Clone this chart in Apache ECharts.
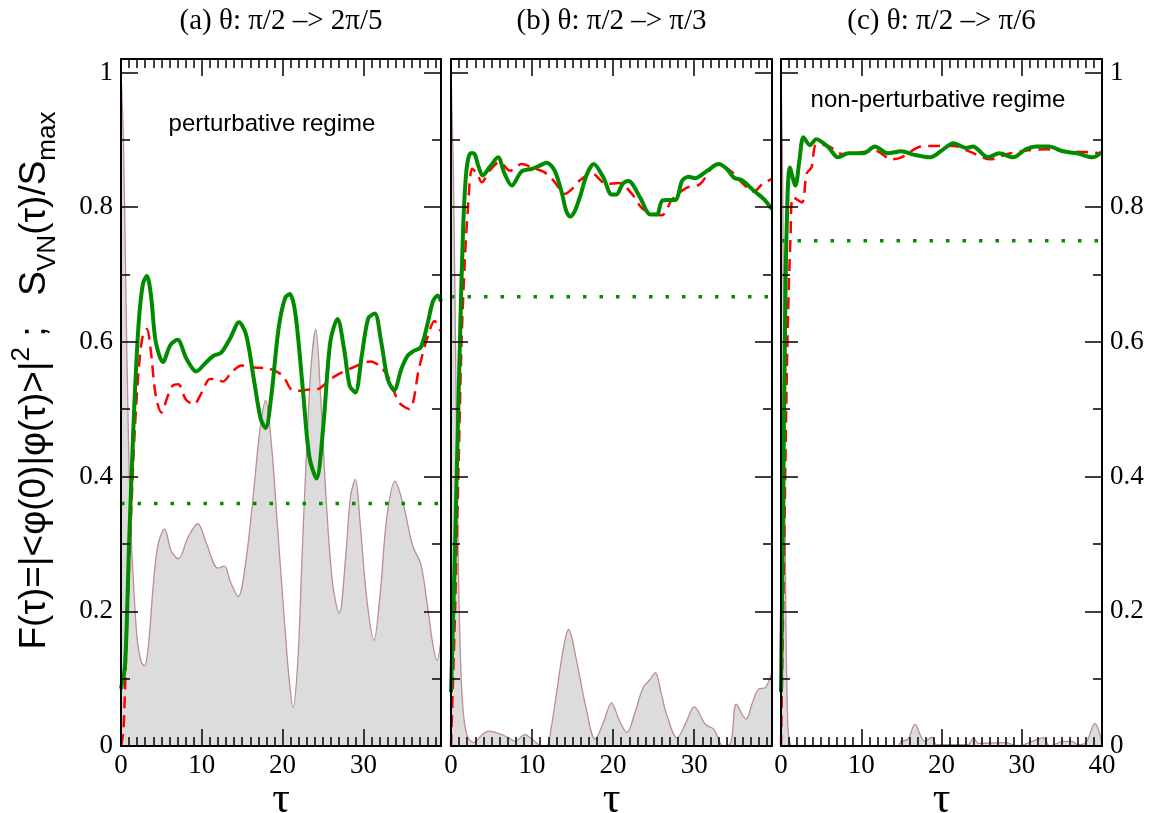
<!DOCTYPE html>
<html>
<head>
<meta charset="utf-8">
<script src="https://cdn.jsdelivr.net/npm/echarts@6/dist/echarts.min.js"></script>
<style>
  html, body { margin: 0; padding: 0; background: #fff; }
  #chart { width: 1153px; height: 813px; }
</style>
</head>
<body>
<div id="chart"></div>
<script>
// panel titles and x ranges
const panelTitles = ['(a) θ: π/2 –> 2π/5', '(b) θ: π/2 –> π/3', '(c) θ: π/2 –> π/6'];
const tauMax = [39.6, 39.6, 40];
// green dotted levels
const plateau = [0.36, 0.667, 0.75];

// F(tau), grey filled
const fidA = [[0,1.0],[0.3,0.9],[0.6,0.68],[0.9,0.47],[1.2,0.33],[1.6,0.23],[2.0,0.16],[2.5,0.125],[2.9,0.119],[3.4,0.15],[4.0,0.24],[4.6,0.3],[5.4,0.322],[6.2,0.29],[7.1,0.278],[8.3,0.31],[9.5,0.33],[10.6,0.3],[12.0,0.264],[12.8,0.267],[13.5,0.245],[14.5,0.222],[15.4,0.27],[16.3,0.364],[17.2,0.47],[17.9,0.513],[18.6,0.45],[19.4,0.32],[20.2,0.19],[20.8,0.1],[21.3,0.057],[21.9,0.13],[22.4,0.28],[22.9,0.42],[23.5,0.56],[24.1,0.619],[24.7,0.52],[25.4,0.364],[26.2,0.24],[27.0,0.197],[27.8,0.28],[28.4,0.37],[29.0,0.396],[29.6,0.33],[30.4,0.22],[31.3,0.157],[32.1,0.23],[32.9,0.34],[33.9,0.393],[34.9,0.36],[36.1,0.297],[37.1,0.27],[37.9,0.21],[38.6,0.15],[39.1,0.127],[39.6,0.16]];
const fidB = [[0,1.0],[0.3,0.85],[0.6,0.55],[0.9,0.275],[1.2,0.12],[1.5,0.052],[2.0,0.015],[2.8,0.005],[3.7,0.015],[4.6,0.022],[5.5,0.02],[6.3,0.017],[7.1,0.012],[7.9,0.007],[9.1,0.017],[10.0,0.01],[11.0,0.001],[11.8,0.0],[12.4,0.03],[13.0,0.077],[13.8,0.14],[14.5,0.173],[15.5,0.126],[16.6,0.06],[17.8,0.01],[18.8,0.035],[19.8,0.064],[20.7,0.04],[21.7,0.02],[22.7,0.05],[23.7,0.087],[24.5,0.098],[25.2,0.109],[25.9,0.08],[26.6,0.047],[27.9,0.012],[29.0,0.035],[30.0,0.058],[31.4,0.032],[32.4,0.025],[33.6,0.0],[34.5,0.004],[35.2,0.062],[36.4,0.04],[37.2,0.065],[37.9,0.084],[38.8,0.087],[39.6,0.11]];
const fidC = [[0,1.0],[0.2,0.85],[0.4,0.5],[0.6,0.2],[0.8,0.05],[1.0,0.01],[1.4,0.0],[14.5,0.0],[15.0,0.007],[15.8,0.01],[16.7,0.032],[17.4,0.015],[17.9,0.007],[18.8,0.013],[19.4,0.002],[23.3,0.002],[24.0,0.012],[24.6,0.004],[28.0,0.005],[29.5,0.0],[31.9,0.01],[32.7,0.012],[33.5,0.0],[35.2,0.007],[36.2,0.007],[37.0,0.002],[38.0,0.005],[39.1,0.033],[40,0.004]];

// S_VN(tau)/S_max, green solid
const svnA = [[0,0.085],[0.5,0.12],[1.0,0.3],[1.3,0.40],[1.7,0.52],[2.2,0.63],[2.7,0.685],[3.2,0.698],[3.7,0.67],[4.3,0.6],[5.2,0.57],[6.1,0.595],[7.0,0.603],[8.1,0.575],[9.3,0.556],[10.4,0.568],[11.4,0.579],[12.4,0.584],[13.5,0.605],[14.6,0.629],[15.5,0.61],[16.5,0.54],[17.3,0.485],[17.9,0.472],[18.6,0.52],[19.5,0.62],[20.3,0.665],[20.9,0.671],[21.6,0.64],[22.5,0.53],[23.3,0.43],[24.2,0.397],[25.0,0.47],[25.9,0.6],[26.8,0.634],[27.6,0.59],[28.3,0.535],[29.0,0.525],[29.8,0.58],[30.6,0.635],[31.4,0.642],[32.2,0.6],[33.0,0.545],[33.8,0.528],[34.7,0.56],[35.5,0.58],[36.3,0.587],[37.1,0.592],[37.9,0.625],[38.6,0.66],[39.2,0.669],[39.6,0.66]];
const svnB = [[0,0.08],[0.4,0.25],[0.8,0.45],[1.1,0.6],[1.5,0.77],[1.9,0.854],[2.4,0.88],[2.8,0.88],[3.4,0.86],[3.9,0.847],[4.8,0.86],[5.8,0.874],[6.6,0.85],[7.5,0.832],[8.7,0.853],[10.0,0.857],[11.0,0.862],[11.8,0.866],[12.8,0.854],[13.7,0.82],[14.2,0.795],[14.7,0.786],[15.3,0.795],[15.9,0.815],[16.8,0.85],[17.6,0.864],[18.8,0.844],[19.8,0.819],[20.4,0.819],[21.2,0.835],[21.9,0.839],[23.3,0.815],[24.6,0.789],[25.4,0.789],[26.1,0.81],[27.7,0.811],[28.5,0.839],[29.3,0.845],[30.1,0.843],[31.6,0.854],[33.0,0.864],[34.0,0.857],[34.9,0.844],[35.9,0.84],[37.3,0.825],[38.6,0.812],[39.6,0.797]];
const svnC = [[0,0.08],[0.3,0.4],[0.5,0.62],[0.7,0.765],[1.1,0.859],[1.8,0.832],[2.3,0.87],[2.8,0.904],[3.6,0.892],[4.4,0.901],[5.9,0.889],[7.1,0.874],[8.4,0.88],[10.3,0.88],[11.7,0.89],[13.3,0.88],[15.0,0.883],[16.5,0.878],[18.6,0.874],[20.0,0.884],[21.5,0.895],[23.1,0.888],[23.9,0.89],[25.8,0.874],[27.2,0.88],[28.9,0.874],[30.5,0.886],[31.8,0.89],[33.4,0.89],[35.1,0.883],[36.9,0.88],[38.8,0.874],[40,0.882]];

// red dashed
const redA = [[0,0.0],[0.3,0.022],[0.8,0.2],[1.2,0.33],[1.7,0.468],[2.2,0.56],[2.7,0.61],[3.2,0.619],[3.7,0.585],[4.3,0.52],[5.0,0.495],[5.8,0.52],[6.4,0.535],[7.1,0.537],[8.0,0.515],[9.0,0.507],[10.0,0.525],[11.0,0.545],[11.8,0.545],[12.6,0.541],[13.7,0.555],[14.9,0.565],[16.5,0.562],[18.4,0.56],[20.0,0.55],[21.0,0.53],[21.7,0.527],[23.0,0.529],[24.4,0.53],[25.5,0.54],[26.6,0.55],[28.7,0.562],[30.9,0.571],[32.2,0.562],[33.2,0.545],[34.4,0.51],[35.7,0.50],[36.9,0.562],[38.0,0.61],[38.8,0.631],[39.6,0.615]];
const redB = [[0,0],[0.5,0.2],[1.0,0.45],[1.3,0.6],[1.7,0.72],[2.1,0.8],[2.6,0.857],[3.2,0.85],[3.8,0.837],[4.8,0.855],[6.0,0.867],[7.3,0.854],[8.7,0.864],[10.2,0.858],[11.5,0.852],[12.6,0.84],[14.1,0.82],[15.0,0.828],[15.9,0.84],[17.4,0.85],[19.2,0.834],[20.7,0.836],[22.3,0.82],[23.7,0.797],[26.0,0.788],[27.3,0.812],[29.1,0.829],[30.7,0.834],[32.8,0.864],[34.7,0.852],[36.0,0.835],[37.3,0.823],[38.4,0.834],[39.6,0.842]];
const redC = [[0,0],[0.4,0.3],[0.8,0.6],[1.2,0.76],[1.5,0.815],[2.6,0.807],[3.2,0.85],[3.8,0.859],[4.4,0.893],[5.9,0.891],[7.6,0.879],[9.2,0.88],[11.7,0.884],[13.8,0.871],[15.0,0.874],[17.1,0.889],[18.7,0.891],[21.5,0.891],[23.6,0.882],[26.1,0.871],[28.2,0.879],[30.6,0.884],[33.1,0.886],[35.6,0.883],[37.7,0.882],[40,0.88]];

const fidelity = [fidA, fidB, fidC];
const svn = [svnA, svnB, svnC];
const red = [redA, redB, redC];

// fixed plot boxes; don't let echarts shrink them to fit names
const gridBoxes = [
  {left: 121, top: 59, width: 320, height: 687, outerBoundsMode: 'none'},
  {left: 451, top: 59, width: 321, height: 687, outerBoundsMode: 'none'},
  {left: 781, top: 59, width: 321, height: 687, outerBoundsMode: 'none'}
];

const serif = 'Liberation Serif';
const sans = 'Liberation Sans';
const axisLine = {show: true, onZero: false, lineStyle: {color: '#000', width: 2}};

function yLabel(v) {
  if (Math.abs(v * 5 - Math.round(v * 5)) > 1e-6) return '';
  if (v === 0) return '0';
  if (Math.abs(v - 1) < 1e-6) return '1';
  return v.toFixed(1);
}

let option = {
  animation: false,
  backgroundColor: '#fff',
  grid: gridBoxes,
  xAxis: [],
  yAxis: [],
  series: [],
  graphic: []
};

// bottom axes first, then top, so series i uses xAxisIndex i
['bottom', 'top'].forEach(pos => {
  gridBoxes.forEach((g, i) => {
    option.xAxis.push({
      type: 'value', gridIndex: i, position: pos, z: 10,
      min: 0, max: tauMax[i], interval: 10,
      axisLine: axisLine,
      axisTick: {inside: true, length: 17, lineStyle: {color: '#000', width: 1.5}},
      minorTick: {show: true, splitNumber: 10, length: 9, lineStyle: {color: '#000', width: 1.5}},
      splitLine: {show: false},
      axisLabel: {
        show: pos === 'bottom', margin: 6, color: '#000', fontFamily: serif, fontSize: 27,
        formatter: v => (Math.abs(v % 10) < 1e-6 ? String(v) : '')
      },
      name: pos === 'bottom' ? 'τ' : '',
      nameLocation: 'middle', nameGap: 32, nameMoveOverlap: false,
      nameTextStyle: {color: '#000', fontFamily: serif, fontSize: 44}
    });
  });
});

['left', 'right'].forEach(pos => {
  gridBoxes.forEach((g, i) => {
    let showLab = (i === 0 && pos === 'left') || (i === 2 && pos === 'right');
    let ax = {
      type: 'value', gridIndex: i, position: pos, z: 10,
      min: 0, max: 1.02, interval: 0.2,
      axisLine: axisLine,
      axisTick: {inside: true, length: 17, lineStyle: {color: '#000', width: 1.5}},
      minorTick: {show: true, splitNumber: 2, length: 9, lineStyle: {color: '#000', width: 1.5}},
      splitLine: {show: false},
      axisLabel: {show: showLab, margin: 8, color: '#000', fontFamily: serif, fontSize: 27, formatter: yLabel}
    };
    if (i === 0 && pos === 'left') {
      ax.name = '{n|F(τ)=|<φ(0)|φ(τ)>|}{sup|2}{n| ;   S}{sub|VN}{n|(τ)/S}{sub|max}';
      ax.nameLocation = 'middle';
      ax.nameRotate = 90;
      ax.nameGap = 60;
      ax.nameMoveOverlap = false;
      ax.nameTextStyle = {
        color: '#000', fontFamily: sans, fontSize: 37, padding: [0, 0, 0, 44],
        rich: {
          n: {fontFamily: sans, fontSize: 37, lineHeight: 52, verticalAlign: 'middle', color: '#000'},
          sup: {fontFamily: sans, fontSize: 26, lineHeight: 24, verticalAlign: 'top', color: '#000'},
          sub: {fontFamily: sans, fontSize: 26, lineHeight: 24, verticalAlign: 'bottom', color: '#000'}
        }
      };
    }
    option.yAxis.push(ax);
  });
});

gridBoxes.forEach((g, i) => {
  option.series.push({
    type: 'line', xAxisIndex: i, yAxisIndex: i, z: 1,
    data: fidelity[i], symbol: 'none', smooth: 0.35,
    lineStyle: {color: '#bc8f8f', width: 1.3},
    areaStyle: {color: '#dcdcdc', opacity: 1}
  });
  option.series.push({
    type: 'line', xAxisIndex: i, yAxisIndex: i, z: 2,
    data: [[0, plateau[i]], [tauMax[i], plateau[i]]], symbol: 'none',
    lineStyle: {color: '#008b00', width: 3.5, type: [3.5, 13]}
  });
  option.series.push({
    type: 'line', xAxisIndex: i, yAxisIndex: i, z: 3,
    data: red[i], symbol: 'none', smooth: 0.3,
    lineStyle: {color: '#ff0000', width: 2.5, type: [12, 7]}
  });
  option.series.push({
    type: 'line', xAxisIndex: i, yAxisIndex: i, z: 4,
    data: svn[i], symbol: 'none', smooth: 0.3,
    lineStyle: {color: '#008b00', width: 4}
  });
  option.graphic.push({
    type: 'text', x: g.left + g.width / 2, y: 21,
    style: {text: panelTitles[i], font: '29px "Liberation Serif"', fill: '#000', align: 'center', verticalAlign: 'middle'}
  });
});

option.graphic.push({
  type: 'text', x: 272, y: 124,
  style: {text: 'perturbative regime', font: '24px "Liberation Sans"', fill: '#000', align: 'center', verticalAlign: 'middle'}
});
option.graphic.push({
  type: 'text', x: 938, y: 100,
  style: {text: 'non-perturbative regime', font: '24px "Liberation Sans"', fill: '#000', align: 'center', verticalAlign: 'middle'}
});

let chart = echarts.init(document.getElementById('chart'));
chart.setOption(option);
</script>
</body>
</html>
